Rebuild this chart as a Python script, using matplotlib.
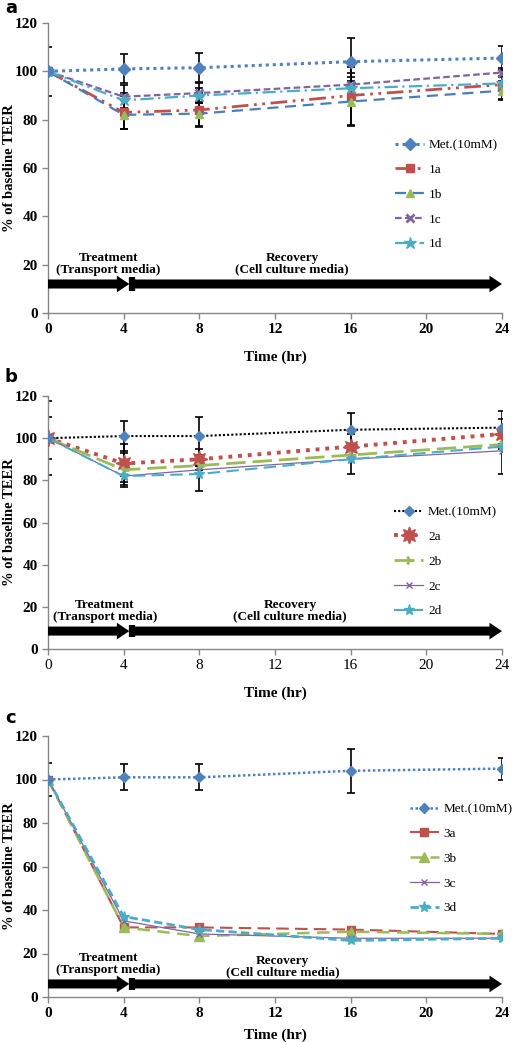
import matplotlib
matplotlib.use("Agg")
import matplotlib.pyplot as plt
from matplotlib.patches import FancyArrowPatch

plt.rcParams['font.family'] = ['Liberation Serif', 'DejaVu Serif']

# ---------------- data ----------------
time = [0, 4, 8, 16, 24]
xticks = [0, 4, 8, 12, 16, 20, 24]
yticks = [0, 20, 40, 60, 80, 100, 120]

# panel a
a_labels = ['Met.(10mM)', '1a', '1b', '1c', '1d']
a_met = [100, 101, 101.5, 104, 105.5]
a_1a = [100, 83, 84, 90, 94.5]
a_1b = [100, 82, 82.5, 87.5, 92]
a_1c = [100, 89.5, 91, 94.5, 99.5]
a_1d = [100, 88, 90, 93, 95]
a_met_err = [10, 6, 6, 10, 5]
a_1a_err = [0, 7, 7, 12, 6]
a_1b_err = [0, 6, 5, 10, 4]
a_1c_err = [0, 5, 4, 5, 2]
a_1d_err = [0, 3, 3, 3, 3]

# panel b
b_labels = ['Met.(10mM)', '2a', '2b', '2c', '2d']
b_met = [100, 101, 101, 104, 105]
b_2a = [100, 88, 90, 96, 102]
b_2b = [100, 85, 87, 92, 97]
b_2c = [100, 82, 85, 90, 94]
b_2d = [100, 82, 83, 90, 96]
b_met_err = [17.5, 7, 9, 8, 8]
b_2a_err = [10, 9, 5, 6, 7]
b_2b_err = [0, 8, 0, 0, 0]
b_2c_err = [0, 0, 0, 7, 11]
b_2d_err = [0, 4, 8, 0, 0]

# panel c
c_labels = ['Met.(10mM)', '3a', '3b', '3c', '3d']
c_met = [100, 101, 101, 104, 105]
c_3a = [100, 32, 32, 31, 29]
c_3b = [100, 32, 28, 30, 29]
c_3c = [100, 35, 29, 27, 27]
c_3d = [100, 37, 31, 26, 27]
c_met_err = [7.6, 6, 6, 10, 5]

# ---------------- styles ----------------
BLUE = '#4F81BD'
RED = '#C0504D'
GREEN = '#9BBB59'
PURPLE = '#8064A2'
AQUA = '#4BACC6'

fig = plt.figure(figsize=(5.18, 10.42), dpi=100)
L, W = 48 / 518, 454 / 518
H = 1042


def mkax(top, bottom):
    return fig.add_axes([L, (H - bottom) / H, W, (bottom - top) / H])


def style_axes(ax, bold_x=True, xpad=8):
    ax.set_xlim(0, 24)
    ax.set_ylim(0, 120)
    ax.set_xticks(xticks)
    ax.set_yticks(yticks)
    for s in ['top', 'right']:
        ax.spines[s].set_visible(False)
    for s in ['left', 'bottom']:
        ax.spines[s].set_color('#868686')
        ax.spines[s].set_linewidth(1.0)
    ax.tick_params(axis='both', direction='out', length=4, color='#868686', width=1,
                   labelsize=11)
    for t in ax.get_yticklabels():
        t.set_fontweight('bold')
    for t in ax.get_xticklabels():
        t.set_fontweight('bold' if bold_x else 'normal')
    ax.set_ylabel('% of baseline TEER', fontsize=10.5, fontweight='bold')
    ax.yaxis.set_label_coords(-0.071, 0.5)
    ax.set_xlabel('Time (hr)', fontsize=11, fontweight='bold', labelpad=xpad)


def draw_arrows(ax, y, tx, ty, rx, ry):
    style = 'simple,head_length=0.9,head_width=1.2,tail_width=0.65'
    a1 = FancyArrowPatch((0, y), (4.3, y), arrowstyle=style, mutation_scale=10,
                         color='black', lw=0, zorder=4, shrinkA=0, shrinkB=0)
    ax.add_patch(a1)
    a2 = FancyArrowPatch((4.45, y), (24, y), arrowstyle=style, mutation_scale=10,
                         color='black', lw=0, zorder=4, shrinkA=0, shrinkB=0)
    ax.add_patch(a2)
    ax.plot([4.42, 4.42], [y - 2.8, y + 2.8], color='black', lw=4.5,
            solid_capstyle='butt', zorder=5)
    ax.text(tx, ty, 'Treatment\n(Transport media)', ha='center', va='bottom',
            fontsize=9.5, fontweight='bold', linespacing=1.0)
    ax.text(rx, ry, 'Recovery\n(Cell culture media)', ha='center', va='bottom',
            fontsize=9.5, fontweight='bold', linespacing=1.0)


def ebar(ax, y, e):
    ax.errorbar(time, y, yerr=e, fmt='none', ecolor='black', elinewidth=1.2,
                capsize=3, capthick=1.2, zorder=2)


def legend(ax, x, y, hl=2.2):
    ax.legend(loc='upper left', bbox_to_anchor=(x, y), frameon=False, fontsize=9.5,
              labelspacing=0.95, handlelength=hl, handletextpad=0.35, borderpad=0,
              borderaxespad=0)


# ---------------- panel a ----------------
ax = mkax(23, 313)
for y, e in [(a_met, a_met_err), (a_1a, a_1a_err), (a_1b, a_1b_err),
             (a_1c, a_1c_err), (a_1d, a_1d_err)]:
    ebar(ax, y, e)
ax.plot(time, a_met, color=BLUE, ls=(0, (1, 1.3)), lw=2.2, marker='D', ms=6,
        label=a_labels[0], zorder=6)
ax.plot(time, a_1a, color=RED, ls=(0, (6, 2, 1, 2, 1, 2)), lw=2, marker='s', ms=6,
        label=a_labels[1], zorder=5)
ax.plot(time, a_1b, color='#4A7EBB', ls=(0, (5, 3)), lw=1.6, marker='^', ms=6,
        mfc=GREEN, mec=GREEN, label=a_labels[2], zorder=5)
ax.plot(time, a_1c, color=PURPLE, ls=(0, (3, 1.5)), lw=1.6, marker='x', ms=6, mew=2,
        label=a_labels[3], zorder=5)
ax.plot(time, a_1d, color=AQUA, ls=(0, (6, 2, 1, 2)), lw=1.6, marker='*', ms=9,
        label=a_labels[4], zorder=5)
style_axes(ax, bold_x=True, xpad=10)
draw_arrows(ax, 12, 3.2, 15.5, 12.9, 15.5)
legend(ax, 0.765, 0.6)
fig.text(5 / 518, 1 - 8 / H, 'a', fontsize=13, fontweight='bold', family='DejaVu Sans',
         va='center', ha='left')

# ---------------- panel b ----------------
ax = mkax(396, 649)
for y, e in [(b_met, b_met_err), (b_2a, b_2a_err), (b_2b, b_2b_err),
             (b_2c, b_2c_err), (b_2d, b_2d_err)]:
    ebar(ax, y, e)
ax.plot(time, b_met, color='black', ls=(0, (1, 1)), lw=1.5, marker='D', ms=5,
        mfc=BLUE, mec=BLUE, label=b_labels[0], zorder=6)
ax.plot(time, b_2a, color=RED, ls=(0, (1, 1.5)), lw=2.8, marker=(8, 1, 0), ms=12,
        label=b_labels[1], zorder=5)
ax.plot(time, b_2b, color=GREEN, ls=(0, (7, 2.5)), lw=2.0, marker='4', ms=7, mew=2,
        label=b_labels[2], zorder=5)
ax.plot(time, b_2c, color=PURPLE, ls='-', lw=0.9, marker='x', ms=4, mew=1,
        label=b_labels[3], zorder=5)
ax.plot(time, b_2d, color=AQUA, ls=(0, (6, 3)), lw=1.5, marker='*', ms=8,
        label=b_labels[4], zorder=5)
style_axes(ax, bold_x=False, xpad=10)
draw_arrows(ax, 8.5, 3.0, 12.5, 12.8, 12.5)
legend(ax, 0.763, 0.565)
fig.text(5 / 518, 1 - 377 / H, 'b', fontsize=13, fontweight='bold', family='DejaVu Sans',
         va='center', ha='left')

# ---------------- panel c ----------------
ax = mkax(736, 997)
ebar(ax, c_met, c_met_err)
ax.plot(time, c_met, color=BLUE, ls=(0, (1, 1)), lw=1.8, marker='D', ms=5,
        label=c_labels[0], zorder=6)
ax.plot(time, c_3a, color=RED, ls=(0, (6, 3)), lw=1.5, marker='s', ms=6,
        label=c_labels[1], zorder=5)
ax.plot(time, c_3b, color=GREEN, ls=(0, (5, 3)), lw=1.8, marker='^', ms=7,
        label=c_labels[2], zorder=5)
ax.plot(time, c_3c, color=PURPLE, ls='-', lw=0.9, marker='x', ms=4, mew=1,
        label=c_labels[3], zorder=5)
ax.plot(time, c_3d, color=AQUA, ls=(0, (3, 1.5)), lw=2.0, marker='*', ms=8,
        label=c_labels[4], zorder=5)
style_axes(ax, bold_x=True, xpad=6)
draw_arrows(ax, 6, 3.2, 9.5, 12.4, 8.5)
legend(ax, 0.797, 0.743)
fig.text(5 / 518, 1 - 718 / H, 'c', fontsize=13, fontweight='bold', family='DejaVu Sans',
         va='center', ha='left')

fig.savefig('out.png', dpi=100)
